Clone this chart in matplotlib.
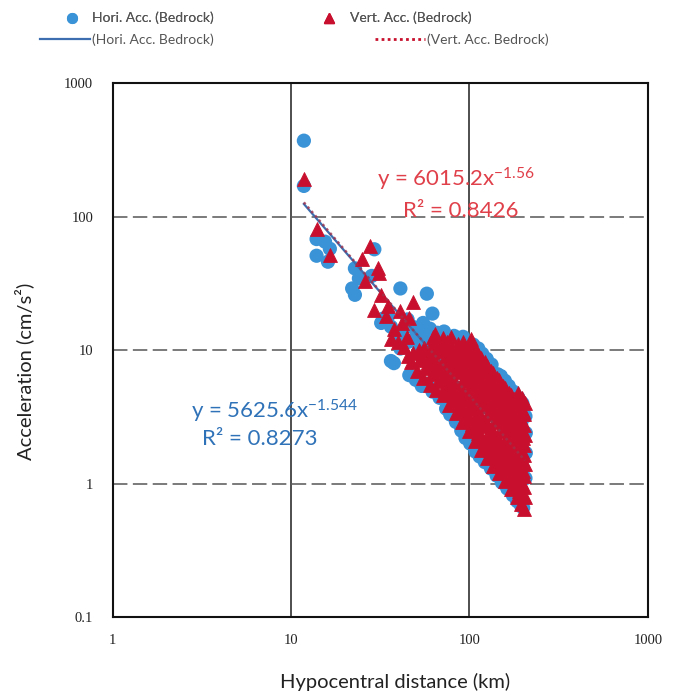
import numpy as np
import matplotlib
matplotlib.use("Agg")
import matplotlib.pyplot as plt
from matplotlib.lines import Line2D

# horizontal acceleration (bedrock), blue circles: (distance km, acc cm/s2)
hori_pts = [
    (11.8, 371), (11.8, 170), (13.9, 68), (15.5, 65), (13.9, 51), (16.1, 46), (16.5, 57.5),
    (29.3, 57), (22.8, 41), (24, 34.5), (28.3, 36), (22, 29), (22.8, 26), (41, 29),
    (57.7, 26.5), (35, 18), (33, 17.3), (32, 16), (36.3, 15), (36.3, 8.3), (45, 17),
    (62, 18.8), (52.5, 13), (41, 10.3), (37.7, 8), (48, 15), (55, 16), (40, 12.5),
    # lower edge of the cloud
    (46, 6.5), (50, 6), (54, 5.4), (58, 5.6), (62, 4.9), (68, 4.4), (74, 3.65), (78, 3.3),
    (84, 2.9), (90, 2.5), (95, 2.2), (101, 2.0), (108, 1.74), (114, 1.6), (122, 1.45),
    (132, 1.3), (142, 1.15), (152, 1.02), (163, 0.92), (175, 0.82), (185, 0.74),
    (195, 0.68), (200, 0.66),
    # upper / right edge of the cloud
    (60, 14.5), (66, 13.5), (72, 13.8), (82, 12.8), (92, 12.6), (105, 11), (112, 10.3),
    (118, 9.4), (125, 8.6), (133, 7.8), (144, 6.6), (150, 6.4), (158, 5.9), (166, 5.4),
    (176, 4.9), (188, 4.4), (198, 4.0), (206, 3.2), (207, 2.4), (207, 1.7), (206, 1.1),
    # inside the cloud
    (42, 14), (45, 11.5), (50, 12.5), (52, 10), (56, 12), (58, 9), (64, 10.5), (70, 8),
    (76, 10), (82, 7), (88, 9.5), (95, 6.5), (102, 9), (110, 5.5), (118, 7), (125, 4),
    (135, 5.5), (145, 3.4), (155, 4.4), (165, 2.8), (175, 3.6), (185, 2.2), (195, 2.8),
    (200, 1.3),
]

# vertical acceleration (bedrock), red triangles
vert_pts = [
    (11.8, 193), (14.0, 81), (16.5, 52), (27.6, 60), (24.9, 48), (30.8, 41), (32, 26),
    (29.3, 20), (35, 21.5), (41, 19.5), (48.5, 23), (36.3, 12.2), (26, 33), (31, 38),
    (38, 14.5), (42, 16), (46, 17.5), (40, 11.5), (34, 18),
    (43, 10.5), (44.5, 12.5), (45, 9),
    (47, 8.2), (48.5, 9.6),
    (51, 7), (52.5, 8.4), (52, 10),
    (55, 6.2), (56.5, 7.4), (57, 8.8), (55.5, 10.4),
    (60, 5.5), (61.5, 6.6), (62, 7.8), (60.5, 9.2), (61, 10.8), (62.5, 12.6),
    (65, 5), (67, 5.9), (66, 7), (65.5, 8.3), (67.5, 9.8), (66, 11.5), (64.5, 13.2),
    (71, 4.6), (73, 5.4), (72, 6.4), (70.5, 7.6), (73.5, 9), (72, 10.6), (71.5, 12.4),
    (77, 3.9), (79, 4.7), (78, 5.6), (76.5, 6.6), (79.5, 7.8), (78, 9.2), (77.5, 10.8), (79, 12.5),
    (84, 3.4), (86, 4.1), (85, 4.9), (83.5, 5.8), (86.5, 6.9), (85, 8.1), (84.5, 9.5), (86, 11.2),
    (91, 2.9), (93, 3.5), (92, 4.2), (90.5, 5), (93.5, 5.9), (92, 7), (91.5, 8.3), (93, 9.8),
    (92, 11.6),
    (99, 2.5), (101, 3), (100, 3.6), (98.5, 4.3), (101.5, 5.1), (100, 6), (99.5, 7.1),
    (101, 8.4), (100, 9.9), (102, 12.2),
    (107, 2.1), (109, 2.6), (108, 3.1), (106.5, 3.7), (109.5, 4.4), (108, 5.2), (107.5, 6.1),
    (109, 7.2), (108, 8.5), (107, 10.2),
    (116, 1.8), (118, 2.2), (117, 2.7), (115.5, 3.2), (118.5, 3.8), (117, 4.5), (116.5, 5.3),
    (118, 6.2), (117, 7.3), (116, 8.8),
    (126, 1.55), (128, 1.9), (127, 2.3), (125.5, 2.8), (128.5, 3.3), (127, 3.9), (126.5, 4.6),
    (128, 5.4), (127, 6.4), (126, 7.6),
    (136, 1.35), (138, 1.65), (137, 2), (135.5, 2.4), (138.5, 2.9), (137, 3.4), (136.5, 4),
    (138, 4.7), (137, 5.6), (136, 6.8),
    (147, 1.2), (149, 1.45), (148, 1.75), (146.5, 2.1), (149.5, 2.5), (148, 3), (147.5, 3.5),
    (149, 4.1), (148, 4.9), (147, 6),
    (159, 1.05), (161, 1.3), (160, 1.55), (158.5, 1.85), (161.5, 2.2), (160, 2.6), (159.5, 3.1),
    (161, 3.6), (160, 4.3), (159, 5.2),
    (171, 0.92), (173, 1.12), (172, 1.35), (170.5, 1.62), (173.5, 1.95), (172, 2.3),
    (171.5, 2.7), (173, 3.2), (172, 3.8), (171, 4.6),
    (184, 0.8), (186, 0.97), (185, 1.18), (183.5, 1.42), (186.5, 1.7), (185, 2), (184.5, 2.4),
    (186, 2.8), (185, 3.3), (184, 4), (186, 4.8),
    (194, 0.7), (196, 0.85), (195, 1.03), (193.5, 1.25), (196.5, 1.5), (195, 1.8), (194.5, 2.1),
    (196, 2.5), (195, 3), (194, 3.6), (196, 4.4),
    (202, 0.65), (204, 0.8), (203, 0.95), (201.5, 1.15), (204.5, 1.4), (203, 1.65),
    (202.5, 1.95), (204, 2.3), (203, 2.75), (202, 3.3), (204, 4),
    # between the columns above
    (54, 9.2), (63, 8.5), (69, 6.8), (69, 10.2), (75, 5), (75, 8.2), (75, 11.6),
    (81, 4.3), (81, 7.2), (81, 10), (88, 3.8), (88, 5.4), (88, 7.5), (88, 10.4),
    (96, 3.2), (96, 4.6), (96, 6.5), (96, 9), (104, 2.8), (104, 4), (104, 5.6), (104, 7.8),
    (104, 10.8), (112, 2.4), (112, 3.4), (112, 4.8), (112, 6.7), (112, 9.3),
    (122, 2), (122, 2.95), (122, 4.2), (122, 5.8), (122, 8.1), (132, 1.7), (132, 2.6),
    (132, 3.6), (132, 5), (132, 7), (142, 1.5), (142, 2.2), (142, 3.15), (142, 4.4),
    (142, 6.2), (154, 1.3), (154, 1.95), (154, 2.8), (154, 3.8), (154, 5.4),
    (166, 1.15), (166, 1.75), (166, 2.45), (166, 3.4), (166, 4.8), (178, 1.0), (178, 1.5),
    (178, 2.15), (178, 3), (178, 4.3), (190, 0.88), (190, 1.35), (190, 1.9), (190, 2.6),
    (190, 4.1), (199, 1.25), (199, 2.2), (199, 3.5),
]

# power trend lines given on the chart: coefficient, exponent, R2
hori_fit = (5625.6, -1.544, 0.8273)
vert_fit = (6015.2, -1.56, 0.8426)

x_ticks = [1, 10, 100, 1000]
y_ticks = [0.1, 1, 10, 100, 1000]

blue = "#3a93d6"
red = "#c8102e"

plt.rcParams["font.family"] = ["Lato", "DejaVu Sans"]
plt.rcParams["mathtext.fontset"] = "custom"
plt.rcParams["mathtext.rm"] = "Lato"
plt.rcParams["mathtext.default"] = "regular"

hx, hy = zip(*hori_pts)
vx, vy = zip(*vert_pts)

fig = plt.figure(figsize=(6.87, 6.99), dpi=100)
ax = fig.add_axes([0.164, 0.117, 0.779, 0.764])

ax.set_xscale("log")
ax.set_yscale("log")
ax.set_xlim(1, 1000)
ax.set_ylim(0.1, 1000)

ax.scatter(hx, hy, s=105, marker="o", color=blue, edgecolors="none", zorder=3)
xl = np.geomspace(min(hx), max(hx), 60)
ax.plot(xl, hori_fit[0] * xl ** hori_fit[1], color="#3d6fb0", lw=1.6, zorder=3.5)
ax.scatter(vx, vy, s=100, marker="^", color=red, edgecolors=red, linewidths=0.6, zorder=4)
xl = np.geomspace(min(vx), max(vx), 60)
ax.plot(xl, vert_fit[0] * xl ** vert_fit[1], color="#a0304a", lw=1.8, ls=(0, (1, 1.3)),
        alpha=0.8, zorder=6)

ax.text(84, 190, "y = %.1fx$^{%s}$" % (vert_fit[0], vert_fit[1]), color="#e0404a",
        fontsize=16, ha="center", va="center", zorder=7)
ax.text(89, 111, "R² = %.4f" % vert_fit[2], color="#e0404a",
        fontsize=16, ha="center", va="center", zorder=7)
ax.text(8.1, 3.5, "y = %.1fx$^{%s}$" % (hori_fit[0], hori_fit[1]), color="#2f72b8",
        fontsize=16, ha="center", va="center", zorder=7)
ax.text(6.7, 2.17, "R² = %.4f" % hori_fit[2], color="#2f72b8",
        fontsize=16, ha="center", va="center", zorder=7)

ax.minorticks_off()
ax.set_xticks(x_ticks)
ax.set_xticklabels([str(v) for v in x_ticks])
ax.set_yticks(y_ticks)
ax.set_yticklabels([str(v) for v in y_ticks])
ax.tick_params(length=0, labelsize=10.5, pad=14, labelcolor="#222222")
for lab in ax.get_xticklabels() + ax.get_yticklabels():
    lab.set_family("Liberation Serif")
ax.tick_params(axis="x", pad=12)

for v in [10, 100]:
    ax.axvline(v, color="#404040", lw=1.3, zorder=1)
for v in [1, 10, 100]:
    ax.axhline(v, color="#707070", lw=1.3, ls=(0, (8, 3)), zorder=1)
for sp in ax.spines.values():
    sp.set_color("#111111")
    sp.set_linewidth(1.5)

ax.set_xlabel("Hypocentral distance (km)", fontsize=14.5, color="#222222")
ax.xaxis.set_label_coords(0.527, -0.105)
ax.set_ylabel("Acceleration (cm/s²)", fontsize=14.5, color="#222222")
ax.yaxis.set_label_coords(-0.146, 0.46)

# legend: markers row and trend-line row
h1 = [Line2D([], [], marker="o", ls="none", color=blue, markersize=7),
      Line2D([], [], marker="^", ls="none", color=red, markersize=7)]
leg1 = fig.legend(h1, ["Hori. Acc. (Bedrock)", "Vert. Acc. (Bedrock)"], ncol=2,
                  loc="center left", bbox_to_anchor=(0.09, 0.974), frameon=False,
                  fontsize=10, handlelength=1.4, handletextpad=0.8, columnspacing=7.6,
                  borderpad=0, borderaxespad=0, labelcolor="#555555")
h2 = [Line2D([], [], color="#3d6fb0", lw=1.6),
      Line2D([], [], color=red, lw=2.0, ls=(0, (1, 1.2)))]
leg2 = fig.legend(h2, ["(Hori. Acc. Bedrock)", "(Vert. Acc. Bedrock)"], ncol=2,
                  loc="center left", bbox_to_anchor=(0.058, 0.943), frameon=False,
                  fontsize=10, handlelength=3.6, handletextpad=0.15, columnspacing=11.6,
                  borderpad=0, borderaxespad=0, labelcolor="#555555")
fig.add_artist(leg1)

fig.savefig("out.png", dpi=100, facecolor="white")
